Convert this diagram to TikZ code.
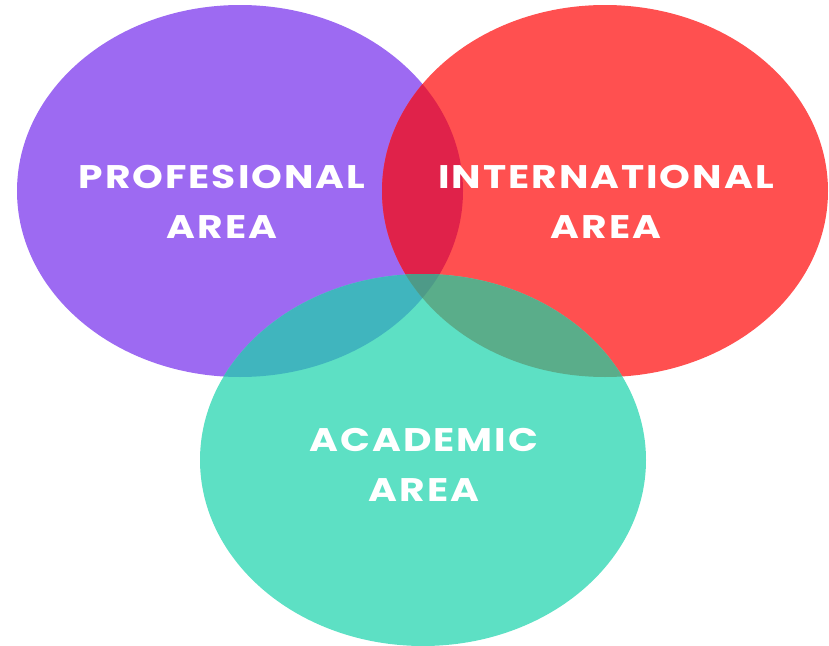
\documentclass[tikz,border=0pt]{standalone}
\usepackage{fontspec}
\setmainfont{Poppins}
\newfontfamily\areafont{Poppins}[LetterSpace=6, FakeStretch=1.2]
\definecolor{profpurple}{HTML}{9D6AF2}
\definecolor{intred}{HTML}{FF5050}
\definecolor{acadteal}{HTML}{5DE0C4}
\definecolor{profint}{HTML}{E0224A}
\definecolor{profacad}{HTML}{40B5BE}
\definecolor{intacad}{HTML}{5AAD8A}
\definecolor{allthree}{HTML}{4E9A88}
\tikzset{
  areatext/.style={text=white, align=center,
    font=\areafont\bfseries\fontsize{24.5}{37.5}\selectfont},
}
\def\profpath{(240,191) ellipse [x radius=223, y radius=186]}
\def\intpath{(605,191) ellipse [x radius=223, y radius=186]}
\def\acadpath{(423,460) ellipse [x radius=223, y radius=186]}
\begin{document}
\begin{tikzpicture}[x=0.75pt, y=-0.75pt]
    \useasboundingbox (0,0) rectangle (829,646);

    % The three areas
    \fill[profpurple] \profpath;
    \fill[intred] \intpath;
    \fill[acadteal] \acadpath;

    % Overlaps of two areas
    \begin{scope}
        \clip \profpath;
        \fill[profint] \intpath;
        \fill[profacad] \acadpath;
    \end{scope}
    \begin{scope}
        \clip \intpath;
        \fill[intacad] \acadpath;
    \end{scope}

    % Overlap of all three
    \begin{scope}
        \clip \profpath;
        \clip \intpath;
        \fill[allthree] \acadpath;
    \end{scope}

    % Labels
    \node[areatext] (prof) at (222,202) {PROFESIONAL\\AREA};
    \node[areatext] (int) at (606,202) {INTERNATIONAL\\AREA};
    \node[areatext] (acad) at (424,465) {ACADEMIC\\AREA};
\end{tikzpicture}
\end{document}
